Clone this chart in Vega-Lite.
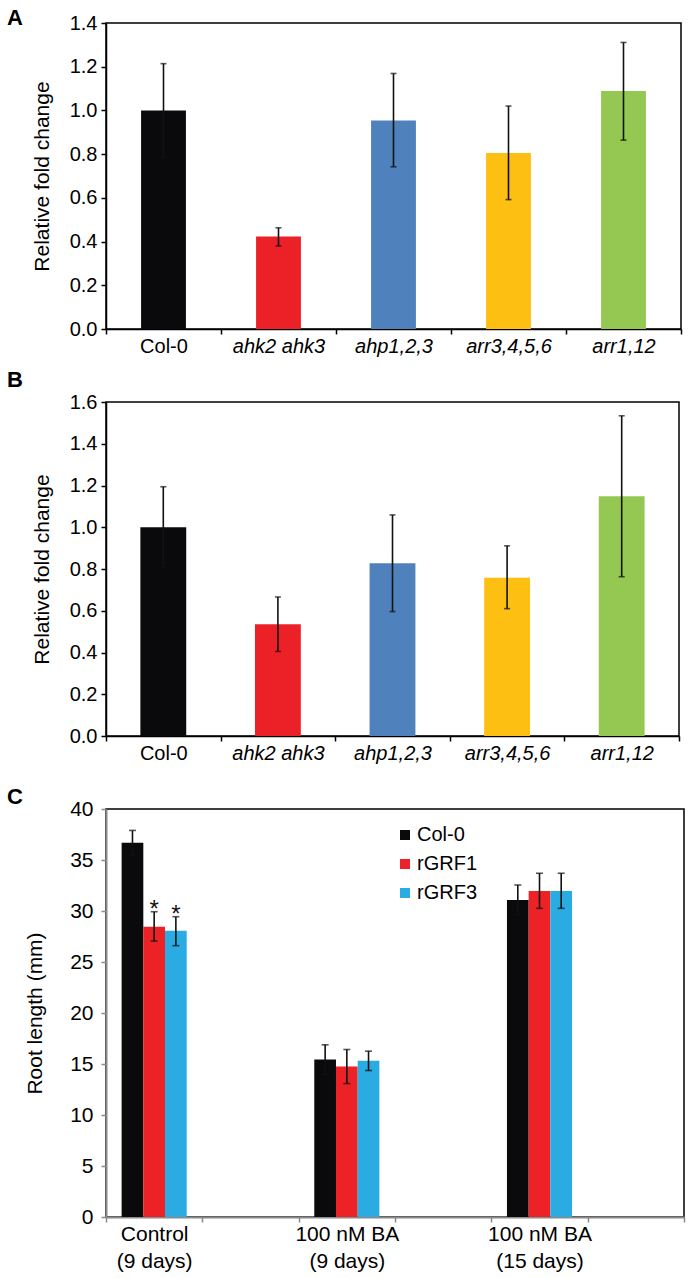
{
  "$schema": "https://vega.github.io/schema/vega-lite/v6.json",
  "padding": {"left": 6, "top": 6, "right": 5, "bottom": 2},
  "background": "white",
  "datasets": {
    "a": [
      {"genotype": "Col-0", "value": 1.0, "lo": 0.786, "hi": 1.214},
      {"genotype": "ahk2 ahk3", "value": 0.423, "lo": 0.38, "hi": 0.463},
      {"genotype": "ahp1,2,3", "value": 0.954, "lo": 0.742, "hi": 1.169},
      {"genotype": "arr3,4,5,6", "value": 0.805, "lo": 0.592, "hi": 1.02},
      {"genotype": "arr1,12", "value": 1.089, "lo": 0.864, "hi": 1.311}
    ],
    "b": [
      {"genotype": "Col-0", "value": 1.0, "lo": 0.806, "hi": 1.194},
      {"genotype": "ahk2 ahk3", "value": 0.535, "lo": 0.405, "hi": 0.666},
      {"genotype": "ahp1,2,3", "value": 0.827, "lo": 0.596, "hi": 1.059},
      {"genotype": "arr3,4,5,6", "value": 0.758, "lo": 0.61, "hi": 0.911},
      {"genotype": "arr1,12", "value": 1.148, "lo": 0.763, "hi": 1.534}
    ],
    "c": [
      {"condition": "Control (9 days)", "line": "Col-0", "value": 36.7, "lo": 35.5, "hi": 37.9, "sig": ""},
      {"condition": "Control (9 days)", "line": "rGRF1", "value": 28.46, "lo": 27.05, "hi": 29.93, "sig": "*"},
      {"condition": "Control (9 days)", "line": "rGRF3", "value": 28.07, "lo": 26.6, "hi": 29.44, "sig": "*"},
      {"condition": "100 nM BA (9 days)", "line": "Col-0", "value": 15.44, "lo": 14.0, "hi": 16.88, "sig": ""},
      {"condition": "100 nM BA (9 days)", "line": "rGRF1", "value": 14.75, "lo": 13.08, "hi": 16.42, "sig": ""},
      {"condition": "100 nM BA (9 days)", "line": "rGRF3", "value": 15.31, "lo": 14.36, "hi": 16.26, "sig": ""},
      {"condition": "100 nM BA (15 days)", "line": "Col-0", "value": 31.08, "lo": 29.6, "hi": 32.55, "sig": ""},
      {"condition": "100 nM BA (15 days)", "line": "rGRF1", "value": 31.96, "lo": 30.26, "hi": 33.7, "sig": ""},
      {"condition": "100 nM BA (15 days)", "line": "rGRF3", "value": 31.96, "lo": 30.26, "hi": 33.7, "sig": ""}
    ]
  },
  "vconcat": [
    {
      "width": 575,
      "height": 306,
      "title": {"text": "A", "anchor": "start", "frame": "group", "dx": -99, "dy": 34, "offset": 0, "baseline": "alphabetic", "fontSize": 22, "fontWeight": "bold", "font": "Liberation Sans", "color": "black"},
      "data": {"name": "a"},
      "encoding": {
        "x": {"field": "genotype", "type": "nominal", "sort": null,
          "scale": {"paddingInner": 0, "paddingOuter": 0},
          "axis": {"title": null, "labelAngle": 0, "tickBand": "extent", "tickSize": 5, "labelPadding": 2, "domainWidth": 1.5, "tickWidth": 1.5,
            "labelFontStyle": {"condition": {"test": "datum.value == 'Col-0'", "value": "normal"}, "value": "italic"}}}
      },
      "layer": [
        {
          "mark": {"type": "bar", "width": {"band": 0.39}},
          "encoding": {
            "y": {"field": "value", "type": "quantitative", "scale": {"domain": [0, 1.4]},
              "axis": {"title": "Relative fold change", "values": [0, 0.2, 0.4, 0.6, 0.8, 1.0, 1.2, 1.4], "format": ".1f", "tickSize": 5, "labelPadding": 4, "titlePadding": 17, "domainWidth": 1.5, "tickWidth": 1.5}},
            "color": {"field": "genotype", "type": "nominal", "scale": {"domain": ["Col-0", "ahk2 ahk3", "ahp1,2,3", "arr3,4,5,6", "arr1,12"], "range": ["#0a0a0c", "#ec2027", "#4f81bd", "#fcbf12", "#94c852"]}, "legend": null}
          }
        },
        {
          "mark": {"type": "rule", "color": "#111111", "strokeWidth": 1.6},
          "encoding": {"y": {"field": "lo", "type": "quantitative"}, "y2": {"field": "hi"}}
        },
        {
          "mark": {"type": "tick", "color": "#111111", "size": 6, "thickness": 1.6},
          "encoding": {"y": {"field": "hi", "type": "quantitative"}}
        },
        {
          "mark": {"type": "tick", "color": "#111111", "size": 6, "thickness": 1.6},
          "encoding": {"y": {"field": "lo", "type": "quantitative"}}
        }
      ]
    },
    {
      "width": 573,
      "height": 334,
      "title": {"text": "B", "anchor": "start", "frame": "group", "dx": -99, "dy": 17, "offset": 0, "baseline": "alphabetic", "fontSize": 22, "fontWeight": "bold", "font": "Liberation Sans", "color": "black"},
      "data": {"name": "b"},
      "encoding": {
        "x": {"field": "genotype", "type": "nominal", "sort": null,
          "scale": {"paddingInner": 0, "paddingOuter": 0},
          "axis": {"title": null, "labelAngle": 0, "tickBand": "extent", "tickSize": 5, "labelPadding": 2, "domainWidth": 1.5, "tickWidth": 1.5,
            "labelFontStyle": {"condition": {"test": "datum.value == 'Col-0'", "value": "normal"}, "value": "italic"}}}
      },
      "layer": [
        {
          "mark": {"type": "bar", "width": {"band": 0.4}},
          "encoding": {
            "y": {"field": "value", "type": "quantitative", "scale": {"domain": [0, 1.6]},
              "axis": {"title": "Relative fold change", "values": [0, 0.2, 0.4, 0.6, 0.8, 1.0, 1.2, 1.4, 1.6], "format": ".1f", "tickSize": 5, "labelPadding": 4, "titlePadding": 17, "domainWidth": 1.5, "tickWidth": 1.5}},
            "color": {"field": "genotype", "type": "nominal", "scale": {"domain": ["Col-0", "ahk2 ahk3", "ahp1,2,3", "arr3,4,5,6", "arr1,12"], "range": ["#0a0a0c", "#ec2027", "#4f81bd", "#fcbf12", "#94c852"]}, "legend": null}
          }
        },
        {
          "mark": {"type": "rule", "color": "#111111", "strokeWidth": 1.6},
          "encoding": {"y": {"field": "lo", "type": "quantitative"}, "y2": {"field": "hi"}}
        },
        {
          "mark": {"type": "tick", "color": "#111111", "size": 6, "thickness": 1.6},
          "encoding": {"y": {"field": "hi", "type": "quantitative"}}
        },
        {
          "mark": {"type": "tick", "color": "#111111", "size": 6, "thickness": 1.6},
          "encoding": {"y": {"field": "lo", "type": "quantitative"}}
        }
      ]
    },
    {
      "width": 578,
      "height": 408,
      "title": {"text": "C", "anchor": "start", "frame": "group", "dx": -99, "dy": 28, "offset": 0, "baseline": "alphabetic", "fontSize": 22, "fontWeight": "bold", "font": "Liberation Sans", "color": "black"},
      "data": {"name": "c"},
      "encoding": {
        "x": {"field": "condition", "type": "nominal",
          "scale": {"domain": ["Control (9 days)", "gap1", "100 nM BA (9 days)", "gap2", "100 nM BA (15 days)", "gap3"], "paddingInner": 0, "paddingOuter": 0},
          "axis": {"title": null, "labelAngle": 0, "tickBand": "extent", "tickSize": 5, "labelPadding": 1, "labelLineHeight": 27, "labelFontSize": 21,
            "domainColor": "#8a8a8a", "tickColor": "#8a8a8a", "domainWidth": 2, "tickWidth": 1.5,
            "labelExpr": "datum.value == 'Control (9 days)' ? ['Control', '(9 days)'] : datum.value == '100 nM BA (9 days)' ? ['100 nM BA', '(9 days)'] : datum.value == '100 nM BA (15 days)' ? ['100 nM BA', '(15 days)'] : ''"}},
        "xOffset": {"field": "line", "type": "nominal", "scale": {"domain": ["Col-0", "rGRF1", "rGRF3"], "paddingInner": 0, "paddingOuter": 0.72}}
      },
      "layer": [
        {
          "mark": {"type": "bar"},
          "encoding": {
            "y": {"field": "value", "type": "quantitative", "scale": {"domain": [0, 40]},
              "axis": {"title": "Root length (mm)", "values": [0, 5, 10, 15, 20, 25, 30, 35, 40], "tickSize": 5, "labelPadding": 8, "titlePadding": 24, "labelFontSize": 21,
                "domainColor": "#8a8a8a", "tickColor": "#8a8a8a", "domainWidth": 2, "tickWidth": 1.5}},
            "color": {"field": "line", "type": "nominal", "scale": {"domain": ["Col-0", "rGRF1", "rGRF3"], "range": ["#0a0a0c", "#ec2227", "#2aace2"]},
              "legend": {"title": null, "orient": "none", "legendX": 289, "legendY": 16, "symbolType": "square", "symbolSize": 100, "symbolStrokeWidth": 0, "labelFontSize": 20, "labelFont": "Liberation Sans", "labelColor": "black", "rowPadding": 9, "labelOffset": 2, "padding": 0}}
          }
        },
        {
          "mark": {"type": "rule", "color": "#111111", "strokeWidth": 1.6},
          "encoding": {"y": {"field": "lo", "type": "quantitative"}, "y2": {"field": "hi"}}
        },
        {
          "mark": {"type": "tick", "color": "#111111", "size": 7, "thickness": 1.6},
          "encoding": {"y": {"field": "hi", "type": "quantitative"}}
        },
        {
          "mark": {"type": "tick", "color": "#111111", "size": 7, "thickness": 1.6},
          "encoding": {"y": {"field": "lo", "type": "quantitative"}}
        },
        {
          "transform": [{"filter": "datum.sig == '*'"}],
          "mark": {"type": "text", "baseline": "alphabetic", "dy": 5, "fontSize": 24, "font": "Liberation Sans", "color": "#111111"},
          "encoding": {"y": {"field": "hi", "type": "quantitative"}, "text": {"field": "sig"}}
        }
      ]
    }
  ],
  "spacing": 73,
  "bounds": "flush",
  "resolve": {"scale": {"color": "independent"}, "legend": {"color": "independent"}},
  "config": {
    "font": "Liberation Sans",
    "view": {"stroke": "black", "strokeWidth": 1.5},
    "axis": {"labelFont": "Liberation Sans", "titleFont": "Liberation Sans", "labelColor": "black", "titleColor": "black", "labelFontSize": 20, "titleFontSize": 21, "titleFontWeight": "normal", "grid": false, "domainColor": "black", "tickColor": "black"}
  }
}
